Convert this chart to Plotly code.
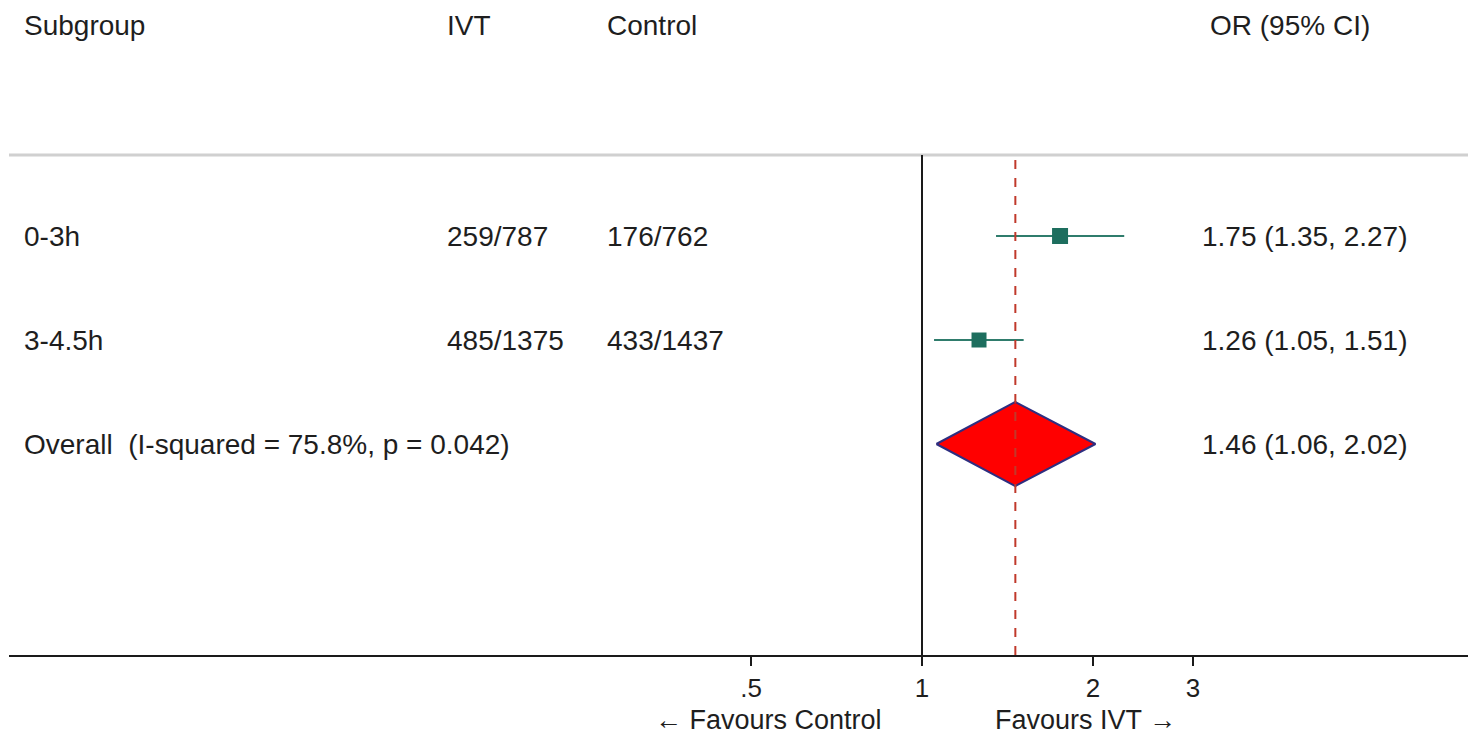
import plotly.graph_objects as go

# ---- data ----
subgroups = ["0-3h", "3-4.5h"]
ivt_counts = ["259/787", "485/1375"]
control_counts = ["176/762", "433/1437"]
or_est = [1.75, 1.26]
ci_low = [1.35, 1.05]
ci_high = [2.27, 1.51]
box_sizes = [16, 15]

overall_label = "Overall  (I-squared = 75.8%, p = 0.042)"
overall_or = 1.46
overall_low = 1.06
overall_high = 2.02

headers = ["Subgroup", "IVT", "Control", "OR (95% CI)"]
tick_vals = [0.5, 1, 2, 3]
tick_text = [".5", "1", "2", "3"]

# ---- layout helpers ----
W, H = 1468, 734
ML, MR, MT, MB = 9, 0, 155, 79
PH = H - MT - MB
PW = W - ML - MR


def px(xp):
    return (xp - ML) / PW


def py(yp):
    return (H - MB - yp) / PH


FONT = "Liberation Sans, Arial, Helvetica, sans-serif"
FS = 28
TXT = "#1e1e1e"
TEAL = "#1d6e5e"

row_y = [3, 2]
overall_y = 1

fig = go.Figure()

# CI lines and boxes
for i in range(len(subgroups)):
    fig.add_trace(go.Scatter(
        x=[ci_low[i], ci_high[i]], y=[row_y[i], row_y[i]],
        mode="lines", line=dict(color="#2f7c6c", width=2),
        showlegend=False, hoverinfo="skip"))
    fig.add_trace(go.Scatter(
        x=[or_est[i]], y=[row_y[i]], mode="markers",
        marker=dict(symbol="square", size=box_sizes[i], color=TEAL,
                    line=dict(width=0)),
        showlegend=False))

# overall diamond
dh = 0.404
fig.add_trace(go.Scatter(
    x=[overall_low, overall_or, overall_high, overall_or, overall_low],
    y=[overall_y, overall_y + dh, overall_y, overall_y - dh, overall_y],
    mode="lines", fill="toself", fillcolor="#ff0000",
    line=dict(color="#2e2e80", width=2), showlegend=False))

shapes = [
    # top grey rule
    dict(type="line", xref="paper", yref="paper", x0=0, x1=1, y0=1, y1=1,
         line=dict(color="#d0d0d0", width=3)),
    # line of no effect
    dict(type="line", xref="x", yref="paper", x0=1, x1=1, y0=0, y1=1,
         line=dict(color="#1a1a1a", width=2)),
    # overall effect dashed
    dict(type="line", xref="x", yref="paper", x0=overall_or, x1=overall_or,
         y0=0, y1=1, line=dict(color="#c0392b", width=2, dash="dash")),
]

annotations = []
col_x = [22, 445, 605, 1208]
for h, cx in zip(headers, col_x):
    annotations.append(dict(text=h, xref="paper", yref="paper", x=px(cx),
                            y=py(25), xanchor="left", yanchor="middle",
                            showarrow=False, font=dict(size=FS, color=TXT, family=FONT)))

for i in range(len(subgroups)):
    ci_txt = f"{or_est[i]:.2f} ({ci_low[i]:.2f}, {ci_high[i]:.2f})"
    for t, cx in zip([subgroups[i], ivt_counts[i], control_counts[i], ci_txt],
                     [22, 445, 605, 1200]):
        annotations.append(dict(text=t, xref="paper", yref="y", x=px(cx),
                                y=row_y[i], xanchor="left", yanchor="middle",
                                showarrow=False,
                                font=dict(size=FS, color=TXT, family=FONT)))

annotations.append(dict(text=overall_label, xref="paper", yref="y", x=px(22),
                        y=overall_y, xanchor="left", yanchor="middle",
                        showarrow=False, font=dict(size=FS, color=TXT, family=FONT)))
annotations.append(dict(text=f"{overall_or:.2f} ({overall_low:.2f}, {overall_high:.2f})",
                        xref="paper", yref="y", x=px(1200), y=overall_y,
                        xanchor="left", yanchor="middle", showarrow=False,
                        font=dict(size=FS, color=TXT, family=FONT)))

annotations.append(dict(text="\u2190 Favours Control", xref="paper", yref="paper",
                        x=px(768), y=py(720), xanchor="center", yanchor="middle",
                        showarrow=False, font=dict(size=27, color=TXT, family=FONT)))
annotations.append(dict(text="Favours IVT \u2192", xref="paper", yref="paper",
                        x=px(1085), y=py(720), xanchor="center", yanchor="middle",
                        showarrow=False, font=dict(size=27, color=TXT, family=FONT)))

# axis range so that 1 maps to x=922 with ~568 px per log10 unit
scale = 568.0
x0 = (ML - 922) / scale
x1 = (W - MR - 922) / scale

fig.update_layout(
    width=W, height=H,
    margin=dict(l=ML, r=MR, t=MT, b=MB),
    paper_bgcolor="white", plot_bgcolor="white",
    shapes=shapes, annotations=annotations,
    showlegend=False,
    xaxis=dict(type="log", range=[x0, x1], tickvals=tick_vals, ticktext=tick_text,
               showgrid=False, zeroline=False, showline=True, linecolor="#1a1a1a",
               linewidth=2, ticks="outside", ticklen=9, tickwidth=2,
               tickcolor="#1a1a1a", tickfont=dict(size=26, color=TXT, family=FONT),
               fixedrange=True),
    yaxis=dict(range=[-1.029, 3.779], showgrid=False, zeroline=False,
               showticklabels=False, showline=False, fixedrange=True),
)

fig.write_html("out.html", config={"displayModeBar": False},
               post_script="document.body.style.margin='0';document.body.style.overflow='hidden';")
